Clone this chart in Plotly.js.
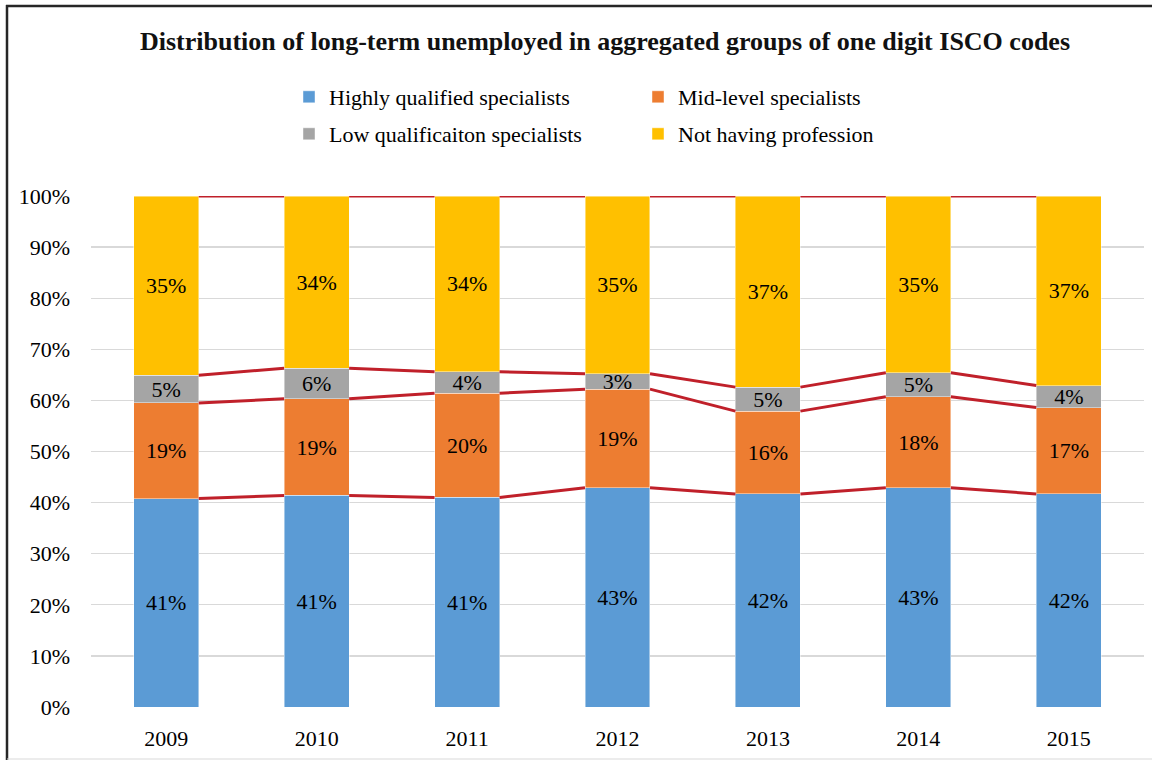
<!DOCTYPE html>
<html>
<head>
<meta charset="utf-8">
<script src="https://cdn.plot.ly/plotly-3.0.1.min.js"></script>
<style>html,body{margin:0;padding:0;background:#fff;}#chart{width:1152px;height:760px;}</style>
</head>
<body>
<div id="chart"></div>
<script>
const years = ['2009', '2010', '2011', '2012', '2013', '2014', '2015'];
const highlyQualified = [40.8, 41.4, 41.0, 42.9, 41.7, 42.9, 41.7];
const midLevel = [18.7, 18.9, 20.4, 19.3, 16.2, 17.8, 16.9];
const lowQualification = [5.4, 6.0, 4.2, 3.0, 4.7, 4.7, 4.3];
const notHavingProfession = [35.1, 33.7, 34.4, 34.8, 37.4, 34.6, 37.1];
const seriesNames = ['Highly qualified specialists', 'Mid-level specialists', 'Low qualificaiton specialists', 'Not having profession'];
const seriesColors = ['#5B9BD5', '#ED7D31', '#A5A5A5', '#FFC000'];
const yTickVals = [0, 10, 20, 30, 40, 50, 60, 70, 80, 90, 100];

const FONT = 'Liberation Serif, Times New Roman, serif';
const xIdx = years.map((_, i) => i);
const barW = 0.432;
const allSeries = [highlyQualified, midLevel, lowQualification, notHavingProfession];
const legendIds = ['legend', 'legend', 'legend2', 'legend2'];

const traces = allSeries.map((vals, s) => ({
  type: 'bar',
  name: seriesNames[s],
  x: xIdx,
  y: vals,
  width: barW,
  marker: {color: seriesColors[s], line: {color: 'rgba(255,255,255,0.55)', width: 0.8}},
  text: vals.map(v => Math.round(v) + '%'),
  textposition: 'inside',
  insidetextanchor: 'middle',
  constraintext: 'none',
  textfont: {family: FONT, size: 22, color: '#000'},
  hoverinfo: 'skip',
  legend: legendIds[s]
}));

// series lines between bars at each cumulative boundary
const cum = [];
let running = years.map(() => 0);
allSeries.forEach(vals => {
  running = running.map((r, i) => r + vals[i]);
  cum.push(running.slice());
});
cum.forEach(level => {
  const lx = [], ly = [];
  for (let i = 0; i < years.length - 1; i++) {
    lx.push(i + barW / 2, i + 1 - barW / 2, null);
    ly.push(level[i], level[i + 1], null);
  }
  traces.push({
    type: 'scatter', mode: 'lines', x: lx, y: ly,
    line: {color: '#C0202A', width: 3},
    showlegend: false, hoverinfo: 'skip', cliponaxis: false
  });
});

const L = 91, R = 1144, T = 196, B = 707, W = 1152, H = 760;
const px = v => (v - L) / (R - L);
const py = v => (B - v) / (B - T);

const legendCommon = {
  orientation: 'h', xref: 'container', yref: 'container',
  x: 289 / W, xanchor: 'left', yanchor: 'top',
  entrywidth: 304, entrywidthmode: 'pixels',
  font: {family: FONT, size: 22, color: '#000'},
  bgcolor: 'rgba(0,0,0,0)', traceorder: 'normal'
};

const layout = {
  width: W, height: H,
  margin: {l: L, r: W - R, t: T, b: H - B},
  paper_bgcolor: '#fff', plot_bgcolor: '#fff',
  barmode: 'stack',
  font: {family: FONT, color: '#000', size: 22},
  title: {
    text: '<b>Distribution of long-term unemployed in aggregated groups of one digit ISCO codes</b>',
    font: {family: FONT, size: 26, color: '#111'},
    x: 605 / W, xanchor: 'center', xref: 'container',
    y: 1 - 41 / H, yanchor: 'middle', yref: 'container'
  },
  xaxis: {
    range: [-0.5, years.length - 0.5],
    tickvals: xIdx, ticktext: years,
    showgrid: false, zeroline: false, showline: false, ticks: '',
    tickfont: {family: FONT, size: 22, color: '#000'},
    ticklabelstandoff: 16
  },
  yaxis: {
    range: [0, 100],
    tickvals: yTickVals, ticktext: yTickVals.map(v => v + '%'),
    showgrid: true, gridcolor: '#D9D9D9', gridwidth: 1.3,
    zeroline: false, showline: false, ticks: '',
    tickfont: {family: FONT, size: 22, color: '#000'},
    ticklabelstandoff: 20
  },
  showlegend: true,
  legend: Object.assign({}, legendCommon, {y: 1 - 76 / H}),
  legend2: Object.assign({}, legendCommon, {y: 1 - 113 / H}),
  shapes: [
    {type: 'line', xref: 'paper', yref: 'paper', x0: px(6), x1: px(1152), y0: py(6), y1: py(6), line: {color: '#262626', width: 2.5}},
    {type: 'line', xref: 'paper', yref: 'paper', x0: px(7), x1: px(7), y0: py(5), y1: py(760), line: {color: '#262626', width: 2.5}},
    {type: 'line', xref: 'paper', yref: 'paper', x0: px(7), x1: px(1152), y0: py(759), y1: py(759), line: {color: '#D9D9D9', width: 1}}
  ]
};

Plotly.newPlot('chart', traces, layout, {staticPlot: true, displayModeBar: false});
</script>
</body>
</html>
